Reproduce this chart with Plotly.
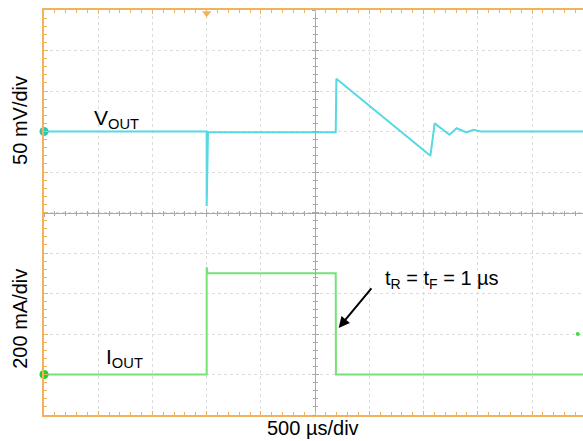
import plotly.graph_objects as go

# ---------------- data ----------------
# time in microseconds relative to the load step (500 us/div)
vout_t = [-1500, 0, 0, 6, 12, 1190, 1196, 2063, 2102, 2170, 2238, 2305, 2397, 2461, 2526, 3000, 3470]
vout_mv = [0, 0, -92, -1, -1, -1, 65, -30, 10, 3, -4, 4, -1, 2, 0, 0, 0]

iout_t = [-1500, 0, 0, 8, 1190, 1192, 3470]
iout_ma = [0, 0, 530, 500, 500, 0, 0]

# channel reference markers / trigger markers
ref_t = [-1500]
vout_ref = [0]
iout_ref = [0]
trig_t = [0]
trig_v = [146]
trig_level_t = [3422]
trig_level_i = [200]

X_RANGE = [-1500, 3470]
V_RANGE = [-350, 150]    # 50 mV/div
I_RANGE = [-200, 1800]   # 200 mA/div
CENTER_T = 1000

CYAN = "#55d9e3"
GREEN = "#74e274"
ORANGE = "#f0b25e"
GRID = "#dcdcdc"
CENTER = "#a8a8a8"
FONT = "Arial, Liberation Sans, sans-serif"

fig = go.Figure()

fig.add_trace(go.Scatter(x=vout_t, y=vout_mv, mode="lines",
                         line=dict(color=CYAN, width=2), yaxis="y", hoverinfo="skip"))
fig.add_trace(go.Scatter(x=iout_t, y=iout_ma, mode="lines",
                         line=dict(color=GREEN, width=2), yaxis="y2", hoverinfo="skip"))
fig.add_trace(go.Scatter(x=ref_t, y=vout_ref, mode="markers", cliponaxis=False,
                         marker=dict(color="#2bc7b0", size=9), yaxis="y", hoverinfo="skip"))
fig.add_trace(go.Scatter(x=ref_t, y=iout_ref, mode="markers", cliponaxis=False,
                         marker=dict(color="#22d022", size=9), yaxis="y2", hoverinfo="skip"))
fig.add_trace(go.Scatter(x=trig_level_t, y=trig_level_i, mode="markers", cliponaxis=False,
                         marker=dict(color="#44d844", size=4), yaxis="y2", hoverinfo="skip"))
fig.add_trace(go.Scatter(x=trig_t, y=trig_v, mode="markers", cliponaxis=False,
                         marker=dict(color=ORANGE, size=8, symbol="triangle-down"), yaxis="y",
                         hoverinfo="skip"))

span = X_RANGE[1] - X_RANGE[0]
center_pos = (CENTER_T - X_RANGE[0]) / span

common_hidden = dict(showticklabels=False, zeroline=False, showgrid=False)

fig.update_layout(
    width=583, height=441,
    margin=dict(l=44, r=0, t=10, b=26),
    paper_bgcolor="white", plot_bgcolor="white",
    showlegend=False,
    xaxis=dict(range=X_RANGE, dtick=500, tick0=-1500, showgrid=True, gridcolor=GRID,
               griddash="dot", gridwidth=1, showline=True, linecolor=ORANGE, linewidth=2,
               mirror="ticks", ticks="inside", ticklen=4, tickcolor=ORANGE,
               minor=dict(dtick=100, ticks="inside", ticklen=3, tickcolor=ORANGE, showgrid=False),
               showticklabels=False, zeroline=False),
    yaxis=dict(range=V_RANGE, dtick=50, tick0=0, showgrid=True, gridcolor=GRID,
               griddash="dot", gridwidth=1, showline=True, linecolor=ORANGE, linewidth=2,
               ticks="inside", ticklen=4, tickcolor=ORANGE,
               minor=dict(dtick=10, ticks="inside", ticklen=3, tickcolor=ORANGE, showgrid=False),
               showticklabels=False, zeroline=False),
    yaxis2=dict(range=I_RANGE, overlaying="y", **common_hidden, showline=False, ticks=""),
    # centre cross-hair lines with small ticks on both sides
    xaxis2=dict(range=X_RANGE, overlaying="x", anchor="free", position=0.5, showline=True,
                linecolor=CENTER, linewidth=1, ticks="inside", ticklen=3, tickcolor=CENTER,
                dtick=500, tick0=-1500,
                minor=dict(dtick=100, ticks="inside", ticklen=2, tickcolor=CENTER, showgrid=False),
                **common_hidden),
    xaxis3=dict(range=X_RANGE, overlaying="x", anchor="free", position=0.5, showline=False,
                ticks="outside", ticklen=3, tickcolor=CENTER, dtick=500, tick0=-1500,
                minor=dict(dtick=100, ticks="outside", ticklen=2, tickcolor=CENTER, showgrid=False),
                **common_hidden),
    yaxis3=dict(range=V_RANGE, overlaying="y", anchor="free", position=center_pos, showline=True,
                linecolor=CENTER, linewidth=1, ticks="inside", ticklen=3, tickcolor=CENTER,
                dtick=50, tick0=0,
                minor=dict(dtick=10, ticks="inside", ticklen=2, tickcolor=CENTER, showgrid=False),
                **common_hidden),
    yaxis4=dict(range=V_RANGE, overlaying="y", anchor="free", position=center_pos, showline=False,
                ticks="outside", ticklen=3, tickcolor=CENTER, dtick=50, tick0=0,
                minor=dict(dtick=10, ticks="outside", ticklen=2, tickcolor=CENTER, showgrid=False),
                **common_hidden),
)

# invisible traces that activate the extra (cross-hair) axes
for xa, ya in [("x2", "y"), ("x3", "y"), ("x", "y3"), ("x", "y4")]:
    fig.add_trace(go.Scatter(x=[None], y=[None], xaxis=xa, yaxis=ya, showlegend=False,
                             hoverinfo="skip"))

ann_font = dict(family=FONT, color="black")
fig.add_annotation(text="50 mV/div", xref="paper", yref="paper", x=-0.045, y=0.728,
                   xanchor="center", yanchor="middle",
                   textangle=-90, showarrow=False, font=dict(size=20, **ann_font))
fig.add_annotation(text="200 mA/div", xref="paper", yref="paper", x=-0.045, y=0.237,
                   xanchor="center", yanchor="middle",
                   textangle=-90, showarrow=False, font=dict(size=20, **ann_font))
fig.add_annotation(text="500 µs/div", xref="paper", yref="paper", x=0.499, y=-0.032,
                   xanchor="center", yanchor="middle",
                   showarrow=False, font=dict(size=20, **ann_font))
fig.add_annotation(text="V<sub>OUT</sub>", x=-1060, y=15, xref="x", yref="y",
                   xanchor="left", yanchor="middle", showarrow=False, font=dict(size=21, **ann_font))
fig.add_annotation(text="I<sub>OUT</sub>", x=-945, y=80, xref="x", yref="y2",
                   xanchor="left", yanchor="middle", showarrow=False, font=dict(size=21, **ann_font))
fig.add_annotation(text="t<sub>R</sub> = t<sub>F</sub> = 1 µs", x=1623, y=467, xref="x", yref="y2",
                   xanchor="left", yanchor="middle", showarrow=False, font=dict(size=20, **ann_font))
fig.add_annotation(text="", x=1217, y=230, xref="x", yref="y2", showarrow=True,
                   ax=34, ay=-41, arrowhead=2, arrowsize=1.1, arrowwidth=2, arrowcolor="black",
                   standoff=0)

fig.write_html("out.html", config={"displayModeBar": False, "staticPlot": True},
               post_script="document.body.style.margin='0';document.body.style.overflow='hidden';")
